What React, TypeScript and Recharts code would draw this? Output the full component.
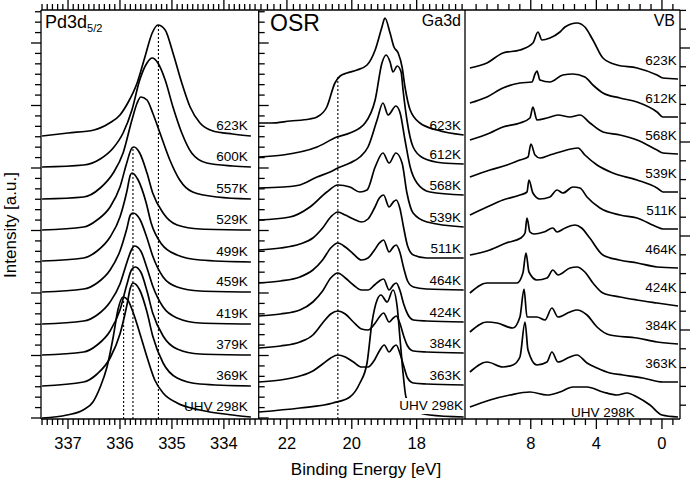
import React from 'react';
import { LineChart, Line, XAxis, YAxis, ReferenceLine, ReferenceDot } from 'recharts';

type Pt = [number, number];

// Pd3d5/2 — binding energy [eV], intensity [a.u.] (offset for clarity)
const pd623: Pt[] = [[337.5,282],[337.0,285],[336.5,288],[336.2,295],[336.0,303],[335.85,315],[335.67,335],[335.52,361],[335.38,385],[335.27,393],[335.13,388],[334.98,365],[334.81,335],[334.65,311],[334.46,295],[334.21,287],[333.83,284],[333.48,282]];
const pd600: Pt[] = [[337.5,251],[336.7,253],[336.38,259],[336.13,270],[335.94,285],[335.77,308],[335.62,338],[335.48,355],[335.38,360],[335.27,355],[335.13,338],[334.98,311],[334.81,285],[334.62,265],[334.33,255],[333.83,252],[333.48,251]];
const pd557: Pt[] = [[337.5,219],[336.7,221],[336.38,230],[336.13,245],[335.94,265],[335.77,298],[335.67,315],[335.6,321],[335.48,318],[335.37,305],[335.23,285],[335.04,258],[334.85,238],[334.6,226],[334.13,221],[333.48,219]];
const pd529: Pt[] = [[337.5,188],[336.7,191],[336.44,198],[336.19,211],[336.0,231],[335.87,255],[335.77,270],[335.73,271],[335.62,265],[335.48,245],[335.37,225],[335.17,205],[334.9,193],[334.46,189],[333.48,188]];
const pd499: Pt[] = [[337.5,157],[336.7,160],[336.44,167],[336.19,181],[336.0,201],[335.87,226],[335.8,243],[335.77,245],[335.65,238],[335.5,216],[335.4,195],[335.2,174],[334.9,163],[334.46,158],[333.48,156]];
const pd459: Pt[] = [[337.5,126],[336.7,129],[336.44,135],[336.19,148],[336.0,167],[335.87,189],[335.8,203],[335.75,205],[335.62,199],[335.48,180],[335.37,162],[335.17,141],[334.9,131],[334.46,127],[333.48,126]];
const pd419: Pt[] = [[337.5,94],[336.7,97],[336.44,103],[336.19,116],[336.0,134],[335.87,155],[335.78,168],[335.72,172],[335.6,167],[335.48,150],[335.37,132],[335.17,111],[334.9,100],[334.46,95],[333.48,94]];
const pd379: Pt[] = [[337.5,63],[336.7,66],[336.44,73],[336.19,87],[336.0,108],[335.87,133],[335.78,148],[335.71,151],[335.6,146],[335.48,127],[335.37,105],[335.17,82],[334.9,69],[334.46,64],[333.48,63]];
const pd369: Pt[] = [[337.5,32],[336.7,36],[336.44,44],[336.19,60],[336.0,84],[335.87,112],[335.8,130],[335.75,135],[335.62,128],[335.48,106],[335.37,82],[335.17,55],[334.9,40],[334.46,34],[333.48,32]];
const pdUhv: Pt[] = [[337.5,0],[337.02,3],[336.71,8],[336.52,16],[336.38,31],[336.25,51],[336.13,81],[336.04,108],[335.94,121],[335.85,118],[335.75,106],[335.62,85],[335.48,61],[335.33,38],[335.17,25],[334.9,15],[334.46,8],[333.83,3],[333.48,1]];
const pdNames = ['623K', '600K', '557K', '529K', '499K', '459K', '419K', '379K', '369K', 'UHV 298K'];
const pdSeries = [pd623, pd600, pd557, pd529, pd499, pd459, pd419, pd379, pd369, pdUhv];
const pdMarks = [335.93, 335.75, 335.26];
const pdMarkTops = [121, 271, 393];

// Ga3d (OSR)
const ga623: Pt[] = [[22.87,295],[22.5,295],[21.9,297],[21.3,299],[21.07,301],[20.77,311],[20.52,335],[20.36,342],[20.15,345],[19.84,348],[19.53,353],[19.28,368],[19.07,391],[18.98,400],[18.82,385],[18.7,371],[18.57,365],[18.45,351],[18.36,331],[18.2,308],[17.9,295],[17.37,288],[16.55,283]];
const ga612: Pt[] = [[22.87,261],[22.12,263],[21.07,271],[20.46,281],[20.06,285],[19.59,295],[19.28,318],[19.07,355],[18.94,363],[18.82,356],[18.73,346],[18.6,352],[18.48,346],[18.42,328],[18.3,298],[18.11,271],[17.8,260],[17.19,255],[16.55,254]];
const ga568: Pt[] = [[22.87,230],[22.12,231],[21.6,233],[21.07,241],[20.67,246],[20.43,250],[20.06,255],[19.75,261],[19.5,271],[19.22,298],[19.04,315],[18.88,303],[18.64,312],[18.51,305],[18.36,278],[18.2,251],[17.99,235],[17.59,226],[16.55,223]];
const ga539: Pt[] = [[22.87,198],[21.91,201],[21.29,211],[20.77,226],[20.43,233],[20.06,231],[19.75,226],[19.53,228],[19.28,251],[19.04,265],[18.85,255],[18.64,265],[18.45,255],[18.3,225],[18.11,205],[17.68,196],[16.55,191]];
const ga511: Pt[] = [[22.87,168],[22.2,170],[21.6,174],[21.2,180],[20.9,190],[20.65,201],[20.43,206],[20.2,203],[19.95,199],[19.7,196],[19.5,199],[19.3,210],[19.15,220],[19.02,223],[18.85,211],[18.72,216],[18.63,218],[18.52,210],[18.4,190],[18.28,172],[18.1,163],[17.7,160],[16.55,160]];
const ga464: Pt[] = [[22.87,135],[22.2,137],[21.6,141],[21.2,148],[20.9,158],[20.65,170],[20.43,175],[20.2,171],[19.95,164],[19.7,158],[19.5,160],[19.3,168],[19.15,175],[19.02,178],[18.85,166],[18.72,171],[18.63,173],[18.52,166],[18.4,150],[18.28,137],[18.1,131],[17.7,129],[16.55,128]];
const ga424: Pt[] = [[22.87,102],[22.2,104],[21.6,108],[21.2,116],[20.9,127],[20.65,140],[20.43,145],[20.2,140],[19.95,133],[19.7,128],[19.5,128],[19.3,133],[19.15,137],[19.02,139],[18.85,128],[18.72,133],[18.63,135],[18.52,128],[18.4,114],[18.28,104],[18.1,98],[17.7,97],[16.55,96]];
const ga384: Pt[] = [[22.87,70],[22.2,72],[21.6,76],[21.2,83],[20.9,95],[20.65,104],[20.43,107],[20.2,104],[19.95,96],[19.7,89],[19.5,88],[19.3,94],[19.15,101],[19.02,105],[18.85,96],[18.72,100],[18.63,102],[18.52,95],[18.4,82],[18.28,72],[18.1,67],[17.7,66],[16.55,65]];
const ga363: Pt[] = [[22.87,36],[22.2,38],[21.6,42],[21.2,47],[20.9,54],[20.65,60],[20.43,63],[20.2,61],[19.95,56],[19.7,51],[19.5,51],[19.3,58],[19.15,67],[19.0,73],[18.85,66],[18.72,71],[18.63,73],[18.52,65],[18.4,52],[18.28,40],[18.1,35],[17.7,34],[16.55,33]];
const gaUhv: Pt[] = [[22.87,6],[21.6,10],[20.58,15],[20.06,21],[19.75,35],[19.53,55],[19.38,95],[19.22,118],[19.1,123],[18.91,116],[18.73,128],[18.6,111],[18.51,78],[18.42,45],[18.33,21],[18.1,8],[17.6,3],[16.55,1]];
const gaNames = ['623K', '612K', '568K', '539K', '511K', '464K', '424K', '384K', '363K', 'UHV 298K'];
const gaSeries = [ga623, ga612, ga568, ga539, ga511, ga464, ga424, ga384, ga363, gaUhv];

// Valence band
const vb623: Pt[] = [[11.71,350],[10.67,355],[9.7,365],[8.66,368],[7.87,375],[7.56,386],[7.32,378],[6.83,380],[6.22,386],[5.91,391],[5.18,395],[4.7,391],[4.21,378],[3.6,360],[2.74,353],[1.52,350],[0.3,343],[-0.06,340],[-0.98,339]];
const vb612: Pt[] = [[11.71,315],[10.67,321],[9.7,330],[8.66,335],[7.93,336],[7.74,344],[7.62,347],[7.44,338],[6.83,336],[6.04,343],[5.43,344],[4.7,341],[4.21,333],[3.6,325],[2.56,320],[1.52,316],[0.3,306],[-0.06,301],[-0.98,301]];
const vb568: Pt[] = [[11.71,278],[10.49,285],[9.7,291],[8.66,295],[8.05,300],[7.87,311],[7.62,298],[7.01,300],[6.34,303],[5.61,301],[5.0,303],[4.39,295],[3.6,286],[2.56,283],[1.52,278],[0.3,268],[-0.06,265],[-0.98,264]];
const vb539: Pt[] = [[11.71,241],[10.49,248],[9.45,253],[8.66,258],[8.17,261],[7.99,274],[7.74,263],[7.44,260],[6.83,263],[6.22,266],[5.12,270],[4.7,263],[3.96,253],[2.99,245],[1.52,238],[0.3,230],[-0.06,226],[-0.98,226]];
const vb511: Pt[] = [[11.71,203],[10.67,211],[9.7,218],[8.66,223],[8.23,226],[8.11,238],[7.87,225],[7.44,219],[6.83,221],[6.4,228],[6.04,225],[5.43,231],[5.0,230],[4.57,221],[3.78,210],[2.56,203],[1.52,200],[0.3,191],[-0.06,189],[-0.98,189]];
const vb464: Pt[] = [[11.71,163],[10.5,168],[9.5,175],[8.6,180],[8.35,185],[8.23,200],[8.05,186],[7.8,184],[7.2,186],[6.65,190],[6.4,186],[5.9,190],[5.3,193],[4.9,190],[4.4,180],[3.6,163],[2.6,158],[1.5,155],[0.3,151],[-0.98,150]];
const vb424: Pt[] = [[11.71,125],[10.67,135],[9.7,135],[8.84,135],[8.48,145],[8.29,165],[8.11,146],[7.62,138],[7.01,140],[6.65,148],[6.34,143],[5.61,150],[5.18,151],[4.7,146],[4.21,135],[3.6,125],[2.56,121],[1.52,118],[0.3,115],[-0.98,112]];
const vb384: Pt[] = [[11.71,86],[10.67,96],[10.06,95],[9.09,90],[8.66,101],[8.41,129],[8.23,101],[7.62,101],[7.13,98],[6.71,110],[6.34,101],[5.61,106],[5.18,108],[4.57,103],[3.96,91],[3.17,83],[1.52,80],[0.3,76],[-0.98,74]];
const vb363: Pt[] = [[11.71,46],[10.67,56],[9.7,51],[9.09,53],[8.66,61],[8.35,96],[8.17,68],[7.62,53],[7.01,56],[6.71,66],[6.34,56],[5.61,61],[5.18,63],[4.57,55],[3.96,50],[3.17,45],[2.38,43],[1.16,40],[-0.06,36],[-0.98,36]];
const vbUhv: Pt[] = [[11.71,11],[10.49,18],[9.27,23],[8.05,26],[7.01,23],[6.22,26],[5.43,31],[4.57,31],[3.6,26],[2.74,23],[2.13,25],[1.52,21],[0.73,13],[0.0,3],[-0.98,1]];
const vbNames = ['623K', '612K', '568K', '539K', '511K', '464K', '424K', '384K', '363K', 'UHV 298K'];
const vbSeries = [vb623, vb612, vb568, vb539, vb511, vb464, vb424, vb384, vb363, vbUhv];

const pdTickLabels = [337, 336, 335, 334];
const gaTickLabels = [22, 20, 18];
const vbTickLabels = [8, 4, 0];

const W = 690;
const H = 484;
const TOP = 10;
const BOTTOM = 419;
const Y_DOMAIN: [number, number] = [-1, 408];
const FONT = '"Liberation Sans", Arial, sans-serif';
const INK = '#000';

const near = (a: number, b: number) => Math.abs(a - b) < 1e-6;
const toRows = (pts: Pt[]) => pts.map(([e, v]) => ({ e, v }));

const pdTicks = Array.from({ length: 42 }, (_, k) => +(333.4 + 0.1 * k).toFixed(1));
const gaTicks = Array.from({ length: 32 }, (_, k) => +(16.6 + 0.2 * k).toFixed(1));
const vbTicks = Array.from({ length: 19 }, (_, k) => ((k - 1) * 2) / 3);
const yTicks = Array.from({ length: 40 }, (_, k) => (k * 125) / 12);
const yRightTicks = Array.from({ length: 22 }, (_, k) => -6 + 18.8 * (k + 1));

const numberLabel = (text: string) => (p: any) => (
  <text x={p.cx} y={p.cy + 30} textAnchor="middle" fontSize={16.5} fontFamily={FONT} fill={INK}>
    {text}
  </text>
);

const tempLabel = (text: string, lift: number, bg: boolean) => (p: any) => {
  const w = text.length * 7.4;
  return (
    <g>
      {bg && <rect x={p.cx - w} y={p.cy - lift - 12} width={w + 2} height={16} fill="#fff" />}
      <text x={p.cx} y={p.cy - lift} textAnchor="end" fontSize={13.5} fontFamily={FONT} fill={INK}>
        {text}
      </text>
    </g>
  );
};

const tickStyle = { stroke: INK, strokeWidth: 1.3, ifOverflow: 'visible' as const };
const frameStyle = { stroke: INK, strokeWidth: 1.3, ifOverflow: 'visible' as const };

type PanelProps = {
  domain: [number, number];
  left: number;
  right: number;
  series: Pt[][];
  names: string[];
  ticks: number[];
  tickLabels: number[];
  labelE: number;
  lift: number;
  uhvAt?: Pt;
  uhvBg?: boolean;
  leftTicks: 'out' | 'in' | 'none';
  rightAxis?: boolean;
  children?: React.ReactNode;
};

function Panel(props: PanelProps) {
  const { domain, left, right, series, names, ticks, tickLabels, labelE, lift, uhvAt, uhvBg, leftTicks, rightAxis } = props;
  // x units per pixel, used to give the side tick marks their length
  const xPerPx = (domain[1] - domain[0]) / (right - left);
  const [yBot, yTop] = Y_DOMAIN;
  const [xLo, xHi] = domain;
  const isMajor = (v: number) => tickLabels.some((l) => near(l, v));
  return (
    <div style={{ position: 'absolute', left: 0, top: 0 }}>
      <LineChart width={W} height={H} margin={{ top: TOP, bottom: H - BOTTOM, left, right: W - right }}>
        <XAxis dataKey="e" type="number" domain={domain} reversed allowDataOverflow hide height={0} />
        <YAxis type="number" domain={Y_DOMAIN} allowDataOverflow hide width={0} />

        {/* frame */}
        <ReferenceLine segment={[{ x: xHi, y: yTop }, { x: xLo, y: yTop }]} {...frameStyle} />
        <ReferenceLine segment={[{ x: xHi, y: yBot }, { x: xLo, y: yBot }]} {...frameStyle} />
        <ReferenceLine segment={[{ x: xHi, y: yBot }, { x: xHi, y: yTop }]} {...frameStyle} />
        {rightAxis && <ReferenceLine segment={[{ x: xLo, y: yBot }, { x: xLo, y: yTop }]} {...frameStyle} />}

        {ticks.map((t) => {
          const len = isMajor(t) ? 10 : 6;
          return (
            <React.Fragment key={'x' + t}>
              <ReferenceLine segment={[{ x: t, y: yBot }, { x: t, y: yBot - len }]} {...tickStyle} />
              <ReferenceLine segment={[{ x: t, y: yTop }, { x: t, y: yTop + len }]} {...tickStyle} />
            </React.Fragment>
          );
        })}
        {tickLabels.map((t) => (
          <ReferenceDot key={'n' + t} x={t} y={yBot} r={0} ifOverflow="visible" shape={numberLabel(String(t))} />
        ))}
        {leftTicks !== 'none' &&
          yTicks.map((v, k) => {
            const len = (k % 6 === 0 ? 10 : 6) * xPerPx;
            const end = leftTicks === 'out' ? xHi + len : xHi - len;
            return <ReferenceLine key={'y' + k} segment={[{ x: xHi, y: v }, { x: end, y: v }]} {...tickStyle} />;
          })}
        {rightAxis &&
          yRightTicks.map((v, k) => {
            const len = ((k + 1) % 5 === 0 ? 10 : 6) * xPerPx;
            return <ReferenceLine key={'r' + k} segment={[{ x: xLo, y: v }, { x: xLo - len, y: v }]} {...tickStyle} />;
          })}

        {props.children}
        {series.map((pts, i) => (
          <Line key={names[i]} data={toRows(pts)} dataKey="v" type="monotone" dot={false} stroke={INK}
            strokeWidth={1.7} isAnimationActive={false} />
        ))}
        {series.map((pts, i) => {
          const isUhv = i === series.length - 1;
          const at: Pt = isUhv && uhvAt ? uhvAt : [labelE, pts[pts.length - 1][1]];
          return (
            <ReferenceDot key={'l' + names[i]} x={at[0]} y={at[1]} r={0} ifOverflow="visible"
              shape={tempLabel(names[i], isUhv && uhvAt ? 0 : lift, isUhv && !!uhvBg)} />
          );
        })}
      </LineChart>
    </div>
  );
}

const dotted = { stroke: INK, strokeWidth: 1.1, strokeDasharray: '2 2' };

export default function App() {
  return (
    <div style={{ position: 'absolute', left: 0, top: 0, width: W, height: H, background: '#fff', fontFamily: FONT, color: INK }}>
      <Panel domain={[333.33, 337.52]} left={41} right={258.7} series={pdSeries} names={pdNames} ticks={pdTicks}
        tickLabels={pdTickLabels} labelE={333.54} lift={6} leftTicks="out">
        {pdMarks.map((e, i) => (
          <ReferenceLine key={e} segment={[{ x: e, y: -1 }, { x: e, y: pdMarkTops[i] }]} {...dotted} />
        ))}
      </Panel>
      <Panel domain={[16.51, 22.87]} left={258.7} right={465} series={gaSeries} names={gaNames} ticks={gaTicks}
        tickLabels={gaTickLabels} labelE={16.63} lift={5} uhvAt={[16.57, 8]} uhvBg leftTicks="in">
        <ReferenceLine segment={[{ x: 20.43, y: -1 }, { x: 20.43, y: 342 }]} {...dotted} />
      </Panel>
      <Panel domain={[-1.1, 12.01]} left={465} right={680} series={vbSeries} names={vbNames} ticks={vbTicks}
        tickLabels={vbTickLabels} labelE={-0.91} lift={14} uhvAt={[1.65, 1]} leftTicks="none" rightAxis />

      <div style={{ position: 'absolute', left: 45, top: 13, fontSize: 18, lineHeight: '18px' }}>
        Pd3d<sub style={{ fontSize: 11, verticalAlign: -4 }}>5/2</sub>
      </div>
      <div style={{ position: 'absolute', left: 270, top: 12, fontSize: 23, lineHeight: '23px' }}>OSR</div>
      <div style={{ position: 'absolute', right: W - 461, top: 13, fontSize: 16, lineHeight: '16px' }}>Ga3d</div>
      <div style={{ position: 'absolute', right: W - 675, top: 13, fontSize: 16, lineHeight: '16px' }}>VB</div>
      <div style={{ position: 'absolute', left: 366, top: 470, transform: 'translate(-50%, -50%)', fontSize: 17, whiteSpace: 'nowrap' }}>
        Binding Energy [eV]
      </div>
      <div style={{ position: 'absolute', left: 11, top: 225, transform: 'translate(-50%, -50%) rotate(-90deg)', fontSize: 17, whiteSpace: 'nowrap' }}>
        Intensity [a.u.]
      </div>
    </div>
  );
}
